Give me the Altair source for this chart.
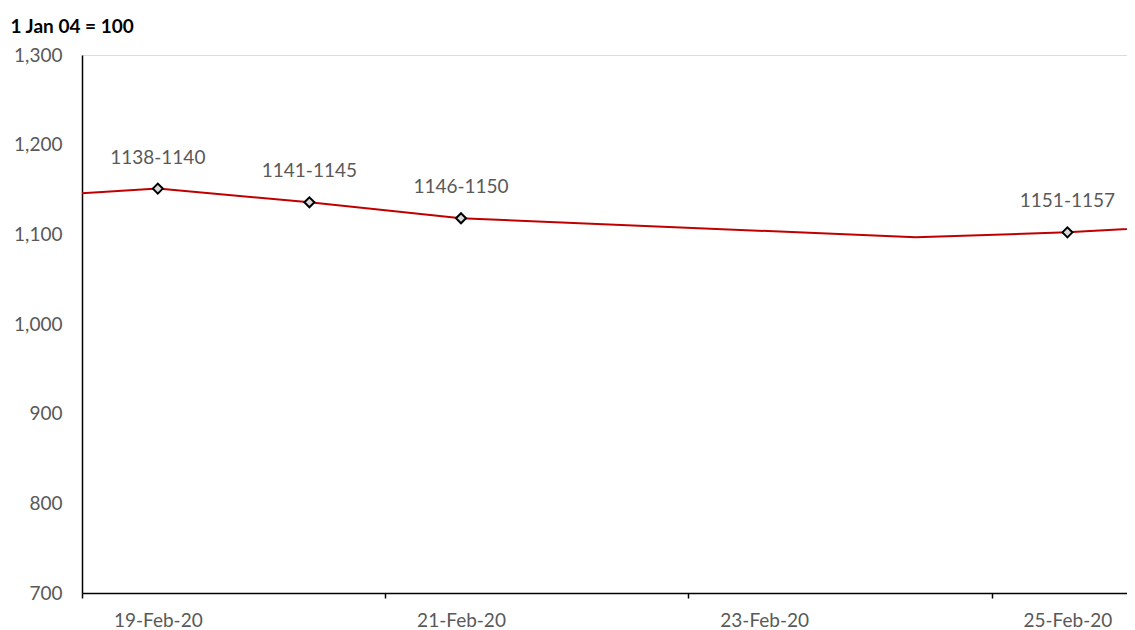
import altair as alt
import pandas as pd

# ---- data ----
line_dates = ["2020-02-18", "2020-02-19", "2020-02-20", "2020-02-21",
              "2020-02-24", "2020-02-25", "2020-02-26"]
line_values = [1140.6, 1151.0, 1135.7, 1117.9, 1096.7, 1102.2, 1111.5]

marker_dates = ["2020-02-19", "2020-02-20", "2020-02-21", "2020-02-25"]
marker_values = [1151.0, 1135.7, 1117.9, 1102.2]
marker_labels = ["1138-1140", "1141-1145", "1146-1150", "1151-1157"]

y_ticks = [700, 800, 900, 1000, 1100, 1200, 1300]
x_label_days = [19, 21, 23, 25]
y_title = "1 Jan 04 = 100"

line_df = pd.DataFrame({"date": line_dates, "value": line_values})
mark_df = pd.DataFrame({"date": marker_dates, "value": marker_values,
                        "label": marker_labels})

DAY_PX = 151.6
W, H = 1045, 538
span_min = int(round(W / DAY_PX * 1440))
end_total = 12 * 60 + span_min  # minutes after 18 Feb 00:00
end_day = 18 + end_total // 1440
end_h = (end_total % 1440) // 60
end_m = end_total % 60
dom_start = alt.DateTime(year=2020, month=2, date=18, hours=12, utc=True)
dom_end = alt.DateTime(year=2020, month=2, date=end_day, hours=end_h,
                       minutes=end_m, utc=True)
day_px = W / (span_min / 1440.0)

FONT = "Lato"
GREY = "#595959"

x_enc = alt.X(
    "date:T",
    scale=alt.Scale(type="utc", domain=[dom_start, dom_end]),
    axis=alt.Axis(
        values=[alt.DateTime(year=2020, month=2, date=d, utc=True) for d in x_label_days],
        format="%d-%b-%y",
        title=None,
        grid=False,
        domainColor="black",
        domainWidth=1.5,
        tickColor="black",
        tickWidth=1.5,
        tickSize=5,
        tickOffset=-day_px / 2,
        labelOffset=day_px / 2,
        labelPadding=13,
        labelFlush=False,
        labelOverlap=False,
        labelFont=FONT,
        labelFontSize=19,
        labelColor=GREY,
    ),
)

y_enc = alt.Y(
    "value:Q",
    scale=alt.Scale(domain=[700, 1300], nice=False, zero=False),
    axis=alt.Axis(
        values=y_ticks,
        format=",d",
        grid=False,
        ticks=False,
        domainColor="black",
        domainWidth=1.5,
        labelPadding=20,
        labelFont=FONT,
        labelFontSize=19,
        labelColor=GREY,
        title=y_title,
        titleAngle=0,
        titleAlign="left",
        titleBaseline="alphabetic",
        titleX=-72,
        titleY=-23,
        titleFont=FONT,
        titleFontSize=19,
        titleFontWeight="bold",
        titleColor="black",
    ),
)

line = alt.Chart(line_df).mark_line(color="#C00000", strokeWidth=2, clip=True).encode(
    x=x_enc, y=y_enc
)

points = alt.Chart(mark_df).mark_point(
    shape="diamond", size=100, filled=True, fill="#D9D9D9",
    stroke="black", strokeWidth=2, opacity=1
).encode(x="date:T", y="value:Q")

labels = alt.Chart(mark_df).mark_text(
    dy=-31, font=FONT, fontSize=19, color=GREY, baseline="middle"
).encode(x="date:T", y="value:Q", text="label:N")

chart = (
    alt.layer(line, points, labels)
    .properties(
        width=W,
        height=H,
        autosize=alt.AutoSizeParams(type="none"),
        padding={"left": 74, "top": 47, "right": 0, "bottom": 37},
    )
    .configure_view(stroke=None)
    .configure(background="white")
)

chart.save("out.html", embed_options={"renderer": "svg", "actions": False})
